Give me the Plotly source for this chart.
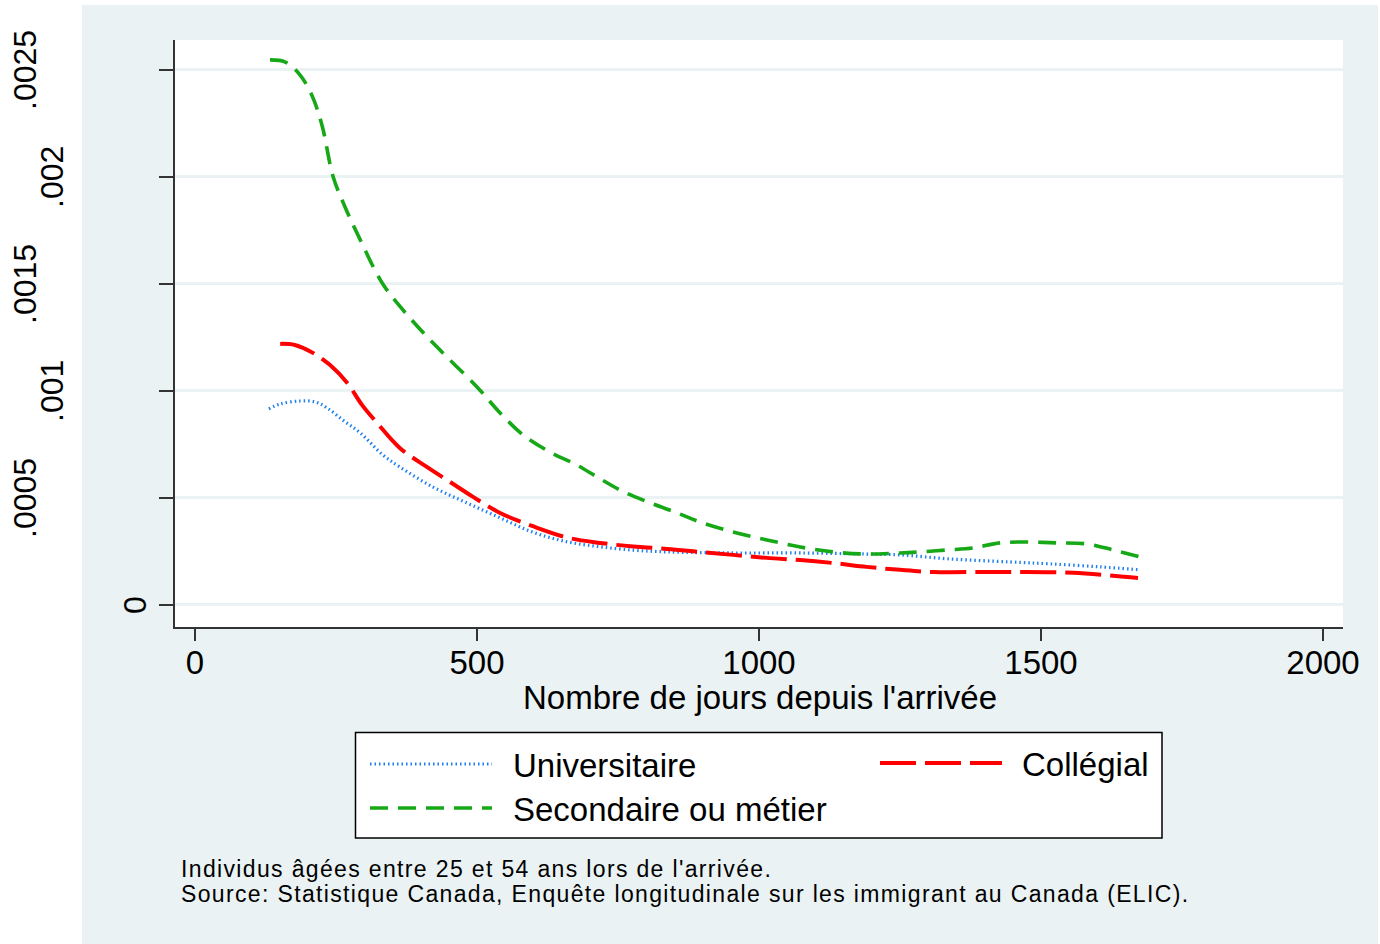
import plotly.graph_objects as go

# ---------------- data ----------------
days_univ = [131, 151, 186, 213, 234, 262, 293, 333, 363, 422, 482, 541, 599, 660, 718, 777, 837,
             954, 1073, 1191, 1250, 1339, 1445, 1516, 1605, 1676]
dens_univ = [0.000916, 0.000939, 0.000953, 0.000949, 0.000921, 0.000864, 0.000804, 0.000701, 0.000645,
             0.000551, 0.000477, 0.000407, 0.000340, 0.000295, 0.000272, 0.000256, 0.000248,
             0.000243, 0.000243, 0.000238, 0.000234, 0.000215, 0.000201, 0.000192, 0.000178, 0.000164]

days_coll = [151, 177, 209, 239, 270, 296, 323, 363, 411, 452, 493, 541, 599, 660, 718, 777, 837, 895,
             954, 1014, 1073, 1131, 1191, 1250, 1309, 1397, 1475, 1557, 1628, 1672]
dens_coll = [0.001220, 0.001215, 0.001178, 0.001122, 0.001037, 0.000935, 0.000850, 0.000734, 0.000645,
             0.000575, 0.000505, 0.000430, 0.000368, 0.000315, 0.000290, 0.000273, 0.000262, 0.000248,
             0.000234, 0.000220, 0.000210, 0.000196, 0.000178, 0.000164, 0.000154, 0.000154, 0.000154,
             0.000150, 0.000136, 0.000126]

days_sec = [133, 160, 186, 207, 225, 245, 266, 293, 333, 381, 434, 500, 541, 582, 629, 677, 713, 754,
            807, 855, 895, 954, 1014, 1073, 1131, 1191, 1250, 1285, 1333, 1379, 1427, 1480, 1528,
            1582, 1628, 1676]
dens_sec = [0.002547, 0.002537, 0.002477, 0.002383, 0.002243, 0.002000, 0.001860, 0.001706, 0.001500,
            0.001341, 0.001192, 0.001019, 0.000897, 0.000794, 0.000715, 0.000654, 0.000598, 0.000537,
            0.000477, 0.000430, 0.000388, 0.000341, 0.000304, 0.000271, 0.000248, 0.000238, 0.000243,
            0.000248, 0.000257, 0.000266, 0.000290, 0.000294, 0.000290, 0.000285, 0.000257, 0.000224]

series_names = ["Universitaire", "Collégial", "Secondaire ou métier"]

x_ticks = [0, 500, 1000, 1500, 2000]
x_tick_labels = ["0", "500", "1000", "1500", "2000"]
y_ticks = [0, 0.0005, 0.001, 0.0015, 0.002, 0.0025]
y_tick_labels = ["0", ".0005", ".001", ".0015", ".002", ".0025"]

x_title = "Nombre de jours depuis l'arrivée"
notes = ["Individus âgées entre 25 et 54 ans lors de l'arrivée.",
         "Source: Statistique Canada, Enquête longitudinale sur les immigrant au Canada (ELIC)."]

# ---------------- layout geometry (pixels) ----------------
W, H = 1380, 944
PL, PR, PT, PB = 175, 1343, 40, 627      # plot area edges
pw, ph = PR - PL, PB - PT


def px_x(p):
    return (p - PL) / pw


def px_y(p):
    return (PB - p) / ph


FONT = "Liberation Sans, Arial, Helvetica, sans-serif"
BG = "#EAF2F3"
BLUE = "#1f7ff0"
RED = "#ff0000"
GREEN = "#16a816"

styles = [
    dict(color=BLUE, width=3.2, dash="1.5px,3px"),
    dict(color=RED, width=4, dash="36px,9px"),
    dict(color=GREEN, width=3.6, dash="18px,10px"),
]

fig = go.Figure()
for name, xs, ys, st in zip(series_names, [days_univ, days_coll, days_sec],
                            [dens_univ, dens_coll, dens_sec], styles):
    fig.add_trace(go.Scatter(x=xs, y=ys, mode="lines", name=name,
                             line=dict(color=st["color"], width=st["width"], dash=st["dash"],
                                       shape="spline", smoothing=1.0),
                             showlegend=False, hoverinfo="x+y+name"))

shapes = [
    # outer graph region
    dict(type="rect", xref="paper", yref="paper", x0=px_x(82), x1=px_x(1378),
         y0=px_y(944), y1=px_y(5), fillcolor=BG, line=dict(width=0), layer="below"),
    # plot region
    dict(type="rect", xref="paper", yref="paper", x0=0, x1=1, y0=0, y1=1,
         fillcolor="white", line=dict(width=0), layer="below"),
    # legend box
    dict(type="rect", xref="paper", yref="paper", x0=px_x(355.5), x1=px_x(1162),
         y0=px_y(838), y1=px_y(732.5), fillcolor="white", line=dict(color="black", width=1.5),
         layer="above"),
]

# legend samples + labels
leg_pos = [(370, 764, 512), (880, 763, 1021), (370, 808, 512)]
annotations = []
for name, st, (lx, ly, tx) in zip(series_names, styles, leg_pos):
    shapes.append(dict(type="line", xref="paper", yref="paper", x0=px_x(lx), x1=px_x(lx + 122),
                       y0=px_y(ly), y1=px_y(ly),
                       line=dict(color=st["color"], width=st["width"], dash=st["dash"])))
    annotations.append(dict(xref="paper", yref="paper", x=px_x(tx - 1), y=px_y(ly + 1), text=name,
                            showarrow=False, xanchor="left", yanchor="middle",
                            font=dict(family=FONT, size=33, color="black")))

# rotated y tick labels
label_center = {1: 135, 4: 52, 5: 25}
for v, lab in zip(y_ticks, y_tick_labels):
    annotations.append(dict(xref="paper", yref="y", x=px_x(label_center[len(lab)]), y=v,
                            text=lab, textangle=-90, showarrow=False,
                            xanchor="center", yanchor="middle",
                            font=dict(family=FONT, size=32, color="black")))

# x axis title
annotations.append(dict(xref="paper", yref="paper", x=px_x(760), y=px_y(697), text=x_title,
                        showarrow=False, xanchor="center", yanchor="middle",
                        font=dict(family=FONT, size=33, color="black")))
# notes
for i, t in enumerate(notes):
    annotations.append(dict(xref="paper", yref="paper", x=px_x(179), y=px_y(869 + 25 * i),
                            text='<span style="letter-spacing:1.35px">' + t + '</span>',
                            showarrow=False, xanchor="left", yanchor="middle",
                            font=dict(family=FONT, size=23, color="black")))

fig.update_layout(
    width=W, height=H,
    margin=dict(l=PL, r=W - PR, t=PT, b=H - PB, pad=0),
    paper_bgcolor="white", plot_bgcolor="rgba(0,0,0,0)",
    font=dict(family=FONT, color="black"),
    shapes=shapes, annotations=annotations, showlegend=False,
    xaxis=dict(range=[-35.5, 2035.5], tickmode="array", tickvals=x_ticks, ticktext=x_tick_labels,
               ticks="outside", ticklen=12, tickwidth=1.5, tickcolor="#333333",
               ticklabelstandoff=-7,
               showline=True, linecolor="#333333", linewidth=2, mirror=False,
               showgrid=False, zeroline=False, tickfont=dict(family=FONT, size=33, color="black")),
    yaxis=dict(range=[-0.000103, 0.00264], tickmode="array", tickvals=y_ticks,
               ticks="outside", ticklen=14, tickwidth=1.5, tickcolor="#333333",
               showticklabels=False,
               showline=True, linecolor="#333333", linewidth=2, mirror=False,
               showgrid=True, gridcolor=BG, gridwidth=3, zeroline=False),
)

fig.write_html("out.html", config={"displayModeBar": False},
               post_script="document.body.style.margin='0px';document.body.style.overflow='hidden';")
